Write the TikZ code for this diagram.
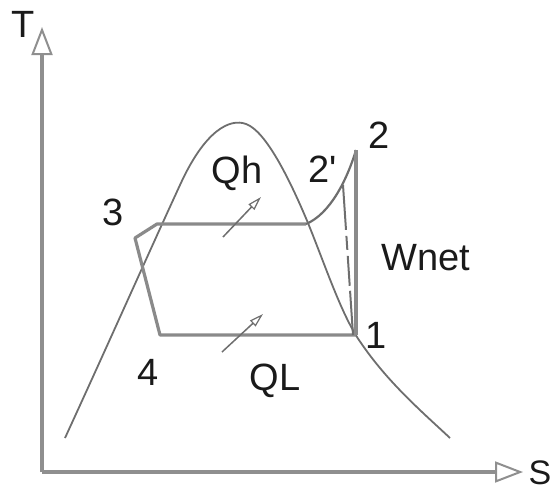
\documentclass[tikz,border=0pt]{standalone}
\usepackage{fontspec}
\setmainfont{Liberation Sans}
\usetikzlibrary{arrows.meta}
\definecolor{axisgray}{HTML}{8F8F8F}
\definecolor{domegray}{HTML}{6E6E6E}
\definecolor{cyclegray}{HTML}{8A8A8A}
\definecolor{txt}{HTML}{1A1A1A}
\begin{document}
\begin{tikzpicture}[x=1pt,y=-1pt,
  lbl/.style={anchor=base,inner sep=0pt,text=txt,font=\fontsize{38}{40}\selectfont},
  axisline/.style={draw=axisgray,line width=3.5pt,-{Triangle[open,length=28pt,width=21pt,line width=2pt]}},
  domeline/.style={draw=domegray,line width=1.8pt},
  cycleline/.style={draw=cyclegray,line width=3.2pt,line join=round},
  heatarrow/.style={draw=domegray,line width=1.5pt,-{Triangle[open,length=14pt,width=8pt,line width=1.2pt]}}]
\useasboundingbox (0,0) rectangle (554,490);
% axes
\coordinate (O) at (42,472);
\coordinate (Ttip) at (42,27);
\coordinate (Stip) at (523,472);
\draw[axisline] (O) -- (Ttip);
\draw[axisline] (O) -- (Stip);
\node[lbl] (T) at (23,37) {T};
\node[lbl,font=\fontsize{34}{36}\selectfont] (S) at (540,484) {S};
% dome
\draw[domeline] (65,438) .. controls (110,340) and (150,250) .. (180,185)
  .. controls (205,130) and (230,118) .. (246,124)
  .. controls (266,131) and (290,180) .. (308,223)
  .. controls (325,265) and (340,310) .. (357,337)
  .. controls (385,380) and (420,410) .. (450,438);
% cycle points
\coordinate (p1) at (356,335);
\coordinate (p2) at (356,150);
\coordinate (p2p) at (343,185);
\coordinate (p3) at (135,238);
\coordinate (p3a) at (157,224);
\coordinate (p3b) at (306,224);
\coordinate (p4) at (160,335);
% cycle
\draw[cycleline] (p1) -- (p4) -- (p3) -- (p3a) -- (p3b);
\draw[domeline,line width=2.2pt] (p3b) .. controls (330,214) and (347,180) .. (p2);
\draw[cycleline] (p2) -- (p1);
\draw[domeline,line width=2pt,dash pattern=on 45pt off 6pt on 14pt off 6pt on 30pt off 5pt] (p2p) -- (353,335);
% heat arrows
\coordinate (qh0) at (223,237);
\coordinate (qh1) at (261,197);
\coordinate (ql0) at (222,352);
\coordinate (ql1) at (263,314);
\draw[heatarrow] (qh0) -- (qh1);
\draw[heatarrow] (ql0) -- (ql1);
% labels
\node[lbl] (Qh) at (237,183) {Qh};
\node[lbl] (l2p) at (323,182) {2\textquotesingle};
\node[lbl] (l2) at (379,148) {2};
\node[lbl] (l3) at (113,225) {3};
\node[lbl] (Wnet) at (426,270) {Wnet};
\node[lbl] (l1) at (376,348) {1};
\node[lbl] (l4) at (148,385) {4};
\node[lbl] (QL) at (275,390) {QL};
\end{tikzpicture}
\end{document}
